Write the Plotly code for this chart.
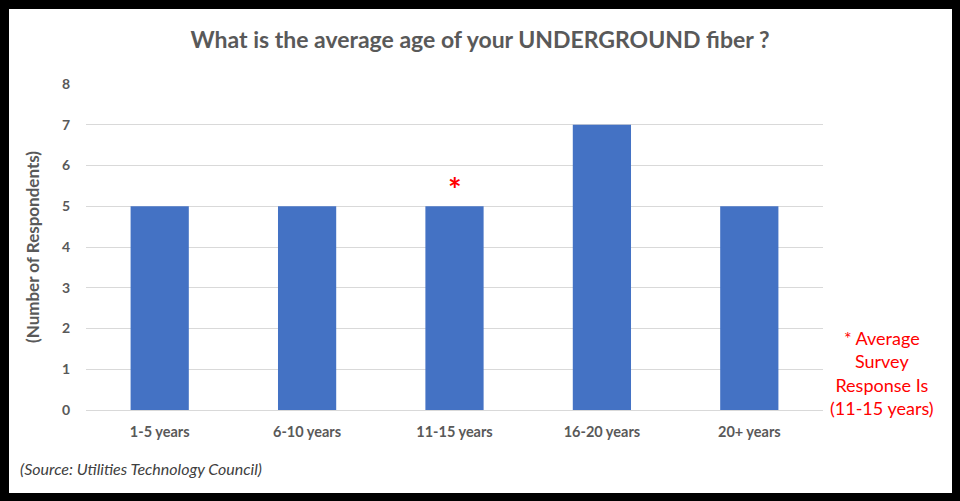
import plotly.graph_objects as go

categories = ["1-5 years", "6-10 years", "11-15 years", "16-20 years", "20+ years"]
respondents = [5, 5, 5, 7, 5]
y_ticks = [0, 1, 2, 3, 4, 5, 6, 7, 8]
avg_category = "11-15 years"

# plot area in pixels (960 x 501 canvas)
L, R, T, B = 86, 823, 84, 410
W, H = 960, 501


def px(x):
    return (x - L) / (R - L)


def py(y):
    return (B - y) / (B - T)


FONT = "Lato, 'Open Sans', sans-serif"
GRAY = "#595959"

fig = go.Figure()
fig.add_trace(go.Bar(
    x=categories, y=respondents,
    marker=dict(color="#4472C4", line=dict(width=0)),
    showlegend=False,
))

fig.update_layout(
    width=W, height=H,
    margin=dict(l=L, r=W - R, t=T, b=H - B),
    paper_bgcolor="#000000",
    plot_bgcolor="#FFFFFF",
    bargap=0.605,
    font=dict(family=FONT, color=GRAY),
    title=dict(
        text="<b>What is the average age of your UNDERGROUND fiber ?</b>",
        x=0.5, xanchor="center", y=1 - 40 / H, yanchor="middle",
        font=dict(size=23, color=GRAY, family=FONT),
    ),
    xaxis=dict(
        tickfont=dict(size=14.5, color=GRAY, family=FONT, weight="bold"),
        showgrid=False, showline=False, zeroline=False,
        ticks="", ticklabelstandoff=11,
    ),
    yaxis=dict(
        range=[0, 8], tickvals=y_ticks,
        tickfont=dict(size=14, color=GRAY, family=FONT, weight="bold"),
        showgrid=True, gridcolor="#D9D9D9", gridwidth=1,
        zeroline=True, zerolinecolor="#D9D9D9", zerolinewidth=1,
        showline=False, ticks="", ticklabelstandoff=15,
        title=dict(text="<b>(Number of Respondents)</b>",
                   font=dict(size=17, color=GRAY, family=FONT), standoff=17),
    ),
    shapes=[
        # white card inside the black frame
        dict(type="rect", xref="paper", yref="paper", layer="below",
             x0=px(9), x1=px(952), y0=py(493), y1=py(9),
             fillcolor="#FFFFFF", line=dict(width=0)),
    ],
    annotations=[
        dict(text="<b>*</b>", x=avg_category, y=respondents[2], xref="x", yref="y",
             xanchor="center", yanchor="bottom", yshift=-5, showarrow=False,
             font=dict(size=32, color="#FF0000", family=FONT)),
        dict(text="* Average<br>Survey<br>Response Is<br>(11-15 years)",
             xref="paper", yref="paper", x=px(882), y=py(373),
             xanchor="center", yanchor="middle", showarrow=False, align="center",
             font=dict(size=18, color="#FF0000", family=FONT)),
        dict(text="<i>(Source: Utilities Technology Council)</i>",
             xref="paper", yref="paper", x=px(18), y=py(468),
             xanchor="left", yanchor="middle", showarrow=False,
             font=dict(size=16, color="#404040", family=FONT)),
    ],
)

fig.write_html("out.html")
